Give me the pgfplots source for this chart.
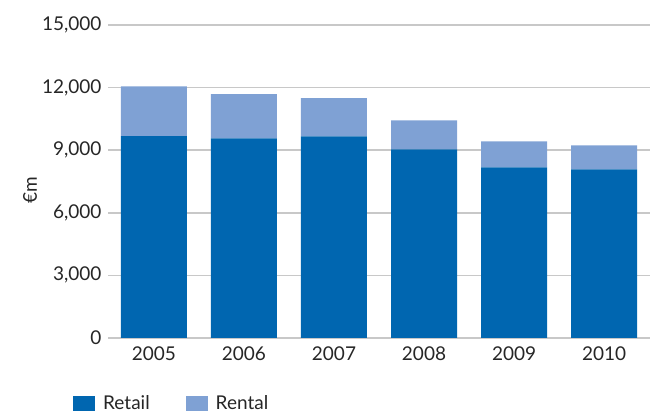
\documentclass[border=0pt]{standalone}
\usepackage{fontspec}
\setmainfont{Lato}
\usepackage{pgfplots}
\pgfplotsset{compat=1.18}
\definecolor{retail}{RGB}{0,102,176}
\definecolor{rental}{RGB}{127,161,212}
\definecolor{gridc}{RGB}{200,200,200}
\begin{document}
\begin{tikzpicture}
\useasboundingbox (0,0) rectangle (659pt,412pt);
\begin{axis}[
  at={(108pt,74pt)}, anchor=south west,
  scale only axis, width=542pt, height=313pt,
  ybar stacked, bar width=66pt,
  xmin=-0.51, xmax=5.51, ymin=0, ymax=15000,
  xtick=data, xticklabels={2005,2006,2007,2008,2009,2010},
  ytick={0,3000,6000,9000,12000,15000},
  scaled y ticks=false,
  /pgf/number format/.cd, 1000 sep={,}, assume math mode=true, /pgfplots/.cd,
  axis line style={draw=none},
  ymajorgrids, major grid style={gridc, line width=1.5pt},
  major tick length=0pt,
  tick label style={font=\fontsize{19}{21}\selectfont, text=black!85},
  yticklabel style={xshift=-3pt},
  xticklabel style={yshift=-5pt},
  ylabel={€m},
  ylabel style={at={(rel axis cs:-0.144,0.473)}, anchor=center, font=\fontsize{19}{21}\selectfont, text=black!85},
  legend columns=2,
  legend style={at={(rel axis cs:-0.0646,-0.208)}, anchor=west, draw=none, inner sep=0pt,
    font=\fontsize{19}{21}\selectfont, text=black!85,
    /tikz/every even column/.append style={column sep=34pt},
    /tikz/every odd column/.append style={column sep=6pt}},
  legend image code/.code={\fill[#1] (0pt,-7.5pt) rectangle (22pt,7.5pt);},
]
\addplot[fill=retail, draw=none] coordinates {(0,9679) (1,9568) (2,9664) (3,9039) (4,8174) (5,8077)};
\addplot[fill=rental, draw=none] coordinates {(0,2374) (1,2115) (2,1827) (3,1394) (4,1250) (5,1154)};
\legend{Retail, Rental}
\end{axis}
\end{tikzpicture}
\end{document}
